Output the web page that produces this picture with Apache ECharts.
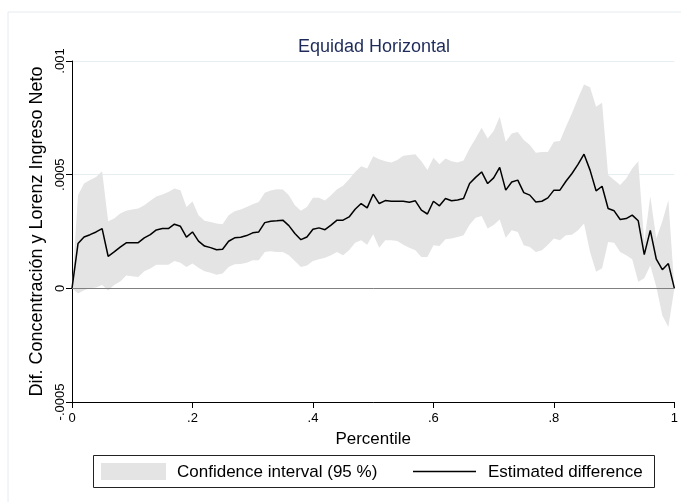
<!DOCTYPE html>
<html>
<head>
<meta charset="utf-8">
<title>Equidad Horizontal</title>
<script src="https://cdn.jsdelivr.net/npm/echarts@6/dist/echarts.min.js"></script>
<style>
  html, body { margin: 0; padding: 0; background: #fff; }
  #chart { width: 681px; height: 502px; }
</style>
</head>
<body>
<div id="chart"></div>
<script type="text/javascript">
// percentiles (x) 0 .. 1
var pct = [0.00,0.01,0.02,0.03,0.04,0.05,0.06,0.07,0.08,0.09,
           0.10,0.11,0.12,0.13,0.14,0.15,0.16,0.17,0.18,0.19,
           0.20,0.21,0.22,0.23,0.24,0.25,0.26,0.27,0.28,0.29,
           0.30,0.31,0.32,0.33,0.34,0.35,0.36,0.37,0.38,0.39,
           0.40,0.41,0.42,0.43,0.44,0.45,0.46,0.47,0.48,0.49,
           0.50,0.51,0.52,0.53,0.54,0.55,0.56,0.57,0.58,0.59,
           0.60,0.61,0.62,0.63,0.64,0.65,0.66,0.67,0.68,0.69,
           0.70,0.71,0.72,0.73,0.74,0.75,0.76,0.77,0.78,0.79,
           0.80,0.81,0.82,0.83,0.84,0.85,0.86,0.87,0.88,0.89,
           0.90,0.91,0.92,0.93,0.94,0.95,0.96,0.97,0.98,0.99,1.00];

// estimated difference
var est = [0,0.000197,0.000226,0.000236,0.000248,0.000263,0.000141,0.000160,0.000181,0.000200,
           0.000200,0.000201,0.000222,0.000236,0.000257,0.000263,0.000263,0.000282,0.000273,0.000225,
           0.000248,0.000208,0.000186,0.000179,0.000170,0.000172,0.000207,0.000222,0.000225,0.000232,
           0.000244,0.000248,0.000289,0.000295,0.000297,0.000300,0.000276,0.000241,0.000214,0.000226,
           0.000260,0.000266,0.000258,0.000278,0.000300,0.000300,0.000314,0.000348,0.000373,0.000354,
           0.000414,0.000373,0.000386,0.000383,0.000383,0.000383,0.000379,0.000385,0.000344,0.000327,
           0.000383,0.000363,0.000395,0.000385,0.000389,0.000395,0.000461,0.000488,0.000512,0.000461,
           0.000486,0.000532,0.000432,0.000468,0.000476,0.000421,0.000410,0.000380,0.000383,0.000398,
           0.000432,0.000432,0.000471,0.000505,0.000545,0.000590,0.000520,0.000429,0.000449,0.000351,
           0.000341,0.000303,0.000307,0.000322,0.000297,0.000148,0.000255,0.000128,0.000082,0.000109,0];

// 95% confidence interval, upper bound
var ciHigh = [0,0.000410,0.000461,0.000476,0.000490,0.000515,0.000295,0.000307,0.000329,0.000341,
              0.000347,0.000351,0.000366,0.000385,0.000404,0.000413,0.000424,0.000439,0.000432,0.000358,
              0.000382,0.000322,0.000297,0.000292,0.000285,0.000282,0.000322,0.000339,0.000347,0.000358,
              0.000370,0.000380,0.000420,0.000430,0.000436,0.000435,0.000410,0.000366,0.000341,0.000358,
              0.000398,0.000398,0.000386,0.000410,0.000436,0.000451,0.000480,0.000512,0.000537,0.000527,
              0.000581,0.000568,0.000559,0.000553,0.000564,0.000583,0.000586,0.000590,0.000559,0.000520,
              0.000574,0.000546,0.000571,0.000559,0.000553,0.000562,0.000615,0.000659,0.000706,0.000659,
              0.000692,0.000755,0.000645,0.000681,0.000688,0.000652,0.000630,0.000596,0.000600,0.000600,
              0.000645,0.000648,0.000711,0.000770,0.000836,0.000897,0.000884,0.000799,0.000816,0.000498,
              0.000476,0.000454,0.000483,0.000527,0.000559,0.000204,0.000405,0.000219,0.000295,0.000388,0];

// 95% confidence interval, lower bound
var ciLow = [0,-0.000023,-0.000008,0,0.000004,0.000015,-0.000010,0.000015,0.000030,0.000057,
             0.000053,0.000050,0.000075,0.000087,0.000104,0.000104,0.000104,0.000120,0.000113,0.000094,
             0.000109,0.000090,0.000075,0.000069,0.000060,0.000065,0.000094,0.000106,0.000107,0.000113,
             0.000123,0.000123,0.000160,0.000163,0.000160,0.000160,0.000145,0.000120,0.000094,0.000100,
             0.000120,0.000128,0.000134,0.000145,0.000160,0.000145,0.000167,0.000200,0.000211,0.000192,
             0.000238,0.000178,0.000211,0.000211,0.000208,0.000192,0.000178,0.000167,0.000138,0.000138,
             0.000189,0.000186,0.000216,0.000219,0.000226,0.000233,0.000280,0.000311,0.000318,0.000263,
             0.000279,0.000303,0.000222,0.000255,0.000248,0.000189,0.000182,0.000160,0.000167,0.000192,
             0.000219,0.000211,0.000233,0.000236,0.000255,0.000285,0.000160,0.000073,0.000088,0.000204,
             0.000201,0.000160,0.000145,0.000128,0.000029,0.000044,0.000100,0.000007,-0.000119,-0.000170,0];

var xTicks = {'0': '0', '0.2': '.2', '0.4': '.4', '0.6': '.6', '0.8': '.8', '1': '1'};
var yTicks = {'-0.0005': '-.0005', '0': '0', '0.0005': '.0005', '0.001': '.001'};

var FONT = 'Liberation Sans, Arial, sans-serif';

var estData = [];
for (var i = 0; i < pct.length; i++) {
    estData.push([pct[i], est[i]]);
}

// shaded CI band: upper bound left->right, then lower bound back
function renderBand(params, api) {
    var pts = [];
    for (var i = 0; i < pct.length; i++) {
        pts.push(api.coord([pct[i], ciHigh[i]]));
    }
    for (var j = pct.length - 1; j >= 0; j--) {
        pts.push(api.coord([pct[j], ciLow[j]]));
    }
    return {
        type: 'polygon',
        shape: { points: pts },
        style: { fill: '#e4e4e4', stroke: null }
    };
}

var mychart = echarts.init(document.getElementById('chart'), null, {renderer: 'canvas'});

var option = {
    animation: false,
    backgroundColor: '#fff',
    textStyle: { fontFamily: FONT },
    title: {
        text: 'Equidad Horizontal',
        left: 369,
        top: 33,
        textAlign: 'center',
        textStyle: { fontFamily: FONT, fontSize: 18, fontWeight: 'normal', color: '#1e2b5a' }
    },
    graphic: [
        {   // outer frame of the graph region
            type: 'rect',
            shape: { x: 8, y: 12, width: 700, height: 520 },
            style: { fill: 'none', stroke: '#e4ecef', lineWidth: 1 },
            silent: true,
            z: -10
        },
        // legend
        {
            type: 'rect',
            shape: { x: 93.5, y: 455.5, width: 561, height: 32 },
            style: { fill: '#fff', stroke: '#222', lineWidth: 1 },
            silent: true
        },
        {
            type: 'rect',
            shape: { x: 101, y: 463, width: 65, height: 17 },
            style: { fill: '#e4e4e4' },
            silent: true
        },
        {
            type: 'text',
            x: 177, y: 472,
            style: { text: 'Confidence interval (95 %)', fontFamily: FONT, fontSize: 17, fill: '#000', verticalAlign: 'middle' },
            silent: true
        },
        {
            type: 'line',
            shape: { x1: 413, y1: 471.5, x2: 476, y2: 471.5 },
            style: { stroke: '#000', lineWidth: 1.5 },
            silent: true
        },
        {
            type: 'text',
            x: 488, y: 472,
            style: { text: 'Estimated difference', fontFamily: FONT, fontSize: 17, fill: '#000', verticalAlign: 'middle' },
            silent: true
        }
    ],
    grid: { left: 72, right: 5, top: 61, bottom: 100 },
    xAxis: {
        type: 'value',
        min: 0,
        max: 1,
        interval: 0.2,
        name: 'Percentile',
        nameLocation: 'middle',
        nameGap: 29,
        nameTextStyle: { fontFamily: FONT, fontSize: 17, color: '#000' },
        axisLine: { onZero: false, lineStyle: { color: '#000', width: 1 } },
        axisTick: { length: 6, lineStyle: { color: '#000' } },
        axisLabel: {
            fontFamily: FONT, fontSize: 13, color: '#000', margin: 10,
            formatter: function (v) { return xTicks[String(+v.toFixed(1))]; }
        },
        splitLine: { show: false }
    },
    yAxis: {
        type: 'value',
        min: -0.0005,
        max: 0.001,
        interval: 0.0005,
        name: 'Dif. Concentración y Lorenz Ingreso Neto',
        nameLocation: 'middle',
        nameRotate: 90,
        nameGap: 18,
        nameTextStyle: { fontFamily: FONT, fontSize: 18, color: '#000' },
        axisLine: { show: true, onZero: false, lineStyle: { color: '#000', width: 1 } },
        axisTick: { show: true, length: 6, lineStyle: { color: '#000' } },
        axisLabel: {
            fontFamily: FONT, fontSize: 13, color: '#000', rotate: 90, margin: 5,
            formatter: function (v) { return yTicks[String(+v.toFixed(4))]; }
        },
        splitLine: { show: true, lineStyle: { color: '#e6eef2', width: 1 } }
    },
    series: [
        {
            name: 'Confidence interval (95 %)',
            type: 'custom',
            renderItem: renderBand,
            data: [[0, 0]],
            silent: true,
            z: 1
        },
        {
            name: 'Estimated difference',
            type: 'line',
            data: estData,
            symbol: 'none',
            itemStyle: { color: '#000' },
            lineStyle: { color: '#000', width: 1.5 },
            z: 3,
            markLine: {
                silent: true,
                symbol: ['none', 'none'],
                label: { show: false },
                lineStyle: { color: '#808080', type: 'solid', width: 1 },
                data: [{ yAxis: 0 }]
            }
        }
    ]
};

mychart.setOption(option);
</script>
</body>
</html>
